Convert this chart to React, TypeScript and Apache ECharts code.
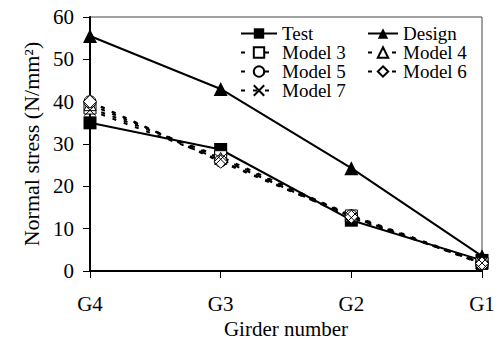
import React, { useEffect, useRef } from "react";
import * as echarts from "echarts";

const girders = ["G4", "G3", "G2", "G1"];
const testValues = [35, 28.7, 12, 2.5];
const designValues = [55.5, 43, 24.3, 3.5];
const model3 = [38.5, 27, 13, 1.8];
const model4 = [39.3, 26.6, 13.2, 2];
const model5 = [40, 26, 13, 1.7];
const model6 = [40, 25.8, 12.8, 1.8];
const model7 = [38, 26.4, 12.6, 1.9];

const FONT = "Liberation Serif";
const X_PATH = "path://M0,0 L10,10 M10,0 L0,10";

export default function App() {
  const ref = useRef<HTMLDivElement>(null);
  useEffect(() => {
    if (!ref.current) return;
    const chart = echarts.init(ref.current, null, { renderer: "svg" });
    const modelSeries = (name: string, data: number[], symbol: string, size: number) => ({
      name,
      type: "line",
      data,
      symbol,
      symbolSize: size,
      lineStyle: { color: "#000", width: 2, type: [4, 8] },
      itemStyle: { color: "#fff", borderColor: "#000", borderWidth: 1 },
      z: 3,
    });
    const legendText = { fontFamily: FONT, fontSize: 19, color: "#000" };
    chart.setOption({
      animation: false,
      textStyle: { fontFamily: FONT },
      grid: {
        left: 90,
        right: 17,
        top: 17,
        bottom: 69,
        show: true,
        borderColor: "#444",
        borderWidth: 1,
        outerBoundsMode: "none",
        containLabel: false,
      },
      legend: [
        {
          left: 240,
          top: 24,
          padding: 0,
          orient: "vertical",
          itemWidth: 36,
          itemHeight: 13,
          itemGap: 0,
          textStyle: legendText,
          data: ["Test", "Model 3", "Model 5", "Model 7"],
        },
        {
          left: 367,
          top: 24,
          padding: 0,
          orient: "vertical",
          itemWidth: 30,
          itemHeight: 13,
          itemGap: 0,
          textStyle: legendText,
          data: ["Design", "Model 4", "Model 6"],
        },
      ],
      xAxis: {
        type: "category",
        data: girders,
        boundaryGap: false,
        name: "Girder number",
        nameLocation: "middle",
        nameGap: 41,
        nameTextStyle: { fontFamily: FONT, fontSize: 21, color: "#000" },
        axisLine: { lineStyle: { color: "#000", width: 2 } },
        axisTick: { show: true, length: 7, inside: false, lineStyle: { color: "#000" } },
        axisLabel: { fontFamily: FONT, fontSize: 21, color: "#000", margin: 22 },
        splitLine: { show: false },
      },
      yAxis: {
        type: "value",
        min: 0,
        max: 60,
        interval: 10,
        name: "Normal stress (N/mm²)",
        nameLocation: "middle",
        nameGap: 48,
        nameTextStyle: { fontFamily: FONT, fontSize: 22, color: "#000" },
        axisLine: { show: true, lineStyle: { color: "#000", width: 2 } },
        axisTick: { show: true, length: 7, inside: false, lineStyle: { color: "#000" } },
        axisLabel: { fontFamily: FONT, fontSize: 21, color: "#000", margin: 16 },
        splitLine: { show: false },
      },
      series: [
        {
          name: "Test",
          type: "line",
          data: testValues,
          symbol: "rect",
          symbolSize: 13,
          lineStyle: { color: "#000", width: 2 },
          itemStyle: { color: "#000" },
          z: 2,
        },
        {
          name: "Design",
          type: "line",
          data: designValues,
          symbol: "triangle",
          symbolSize: 14,
          lineStyle: { color: "#000", width: 2 },
          itemStyle: { color: "#000" },
          z: 2,
        },
        modelSeries("Model 3", model3, "rect", 12),
        modelSeries("Model 4", model4, "triangle", 12),
        modelSeries("Model 5", model5, "circle", 12),
        modelSeries("Model 6", model6, "diamond", 13),
        modelSeries("Model 7", model7, X_PATH, 11),
      ],
    });
    return () => chart.dispose();
  }, []);
  return (
    <div
      ref={ref}
      style={{ position: "fixed", left: 0, top: 0, width: 499, height: 340, background: "#fff" }}
    />
  );
}
